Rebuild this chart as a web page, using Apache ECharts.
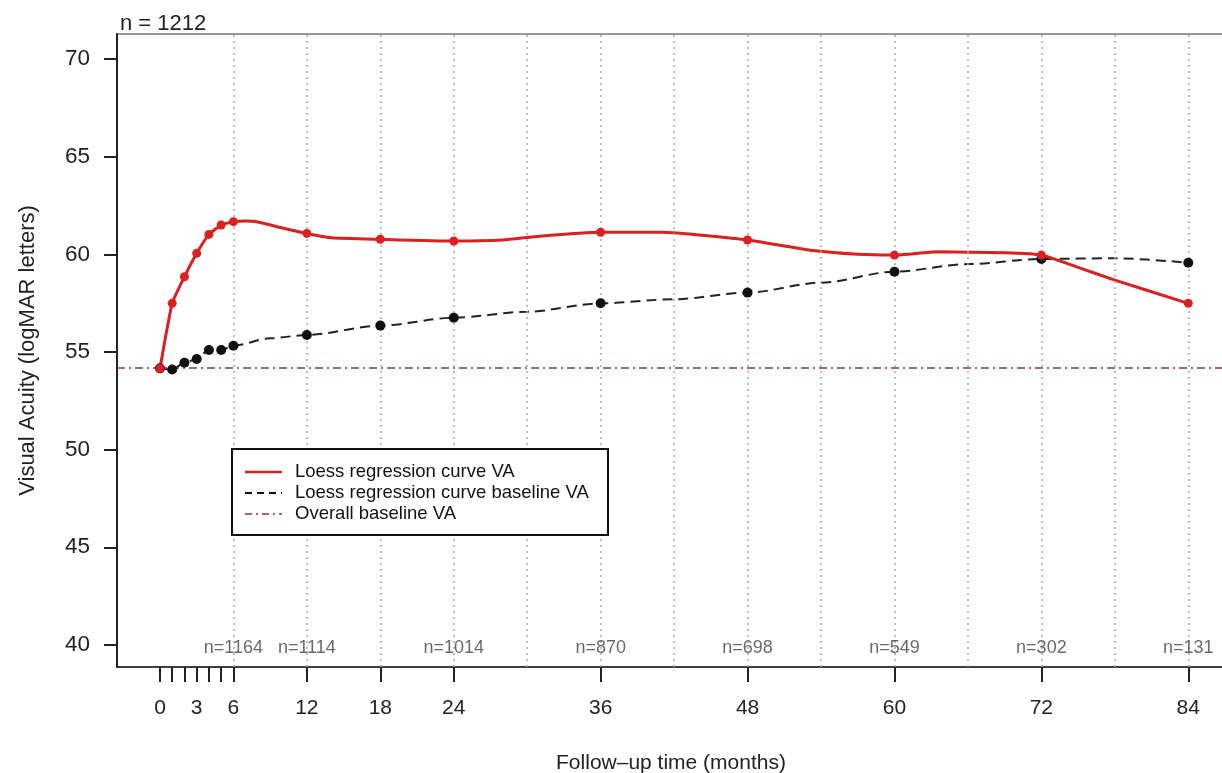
<!DOCTYPE html>
<html>
<head>
<meta charset="utf-8">
<title>Visual acuity follow-up</title>
<script src="https://cdn.jsdelivr.net/npm/echarts@6.0.0/dist/echarts.min.js"></script>
<style>
    html, body { margin: 0; padding: 0; background: #fff; }
    #chart { width: 1222px; height: 773px; }
</style>
</head>
<body>
<div id="chart"></div>
<script>
// measured visits (months) and mean values at each visit
const visitMonths = [0, 1, 2, 3, 4, 5, 6, 12, 18, 24, 36, 48, 60, 72, 84];
const vaPoints = [54.16, 57.49, 58.85, 60.05, 61.02, 61.5, 61.67, 61.07, 60.77, 60.68, 61.13, 60.73, 59.96, 59.96, 57.49];
const baselinePoints = [54.16, 54.1, 54.45, 54.64, 55.1, 55.1, 55.32, 55.87, 56.35, 56.75, 57.49, 58.04, 59.11, 59.76, 59.57];

// loess curves
const vaCurveMonths = [0, 1, 2, 3, 4, 5, 6, 7, 8, 10, 12, 14, 18, 24, 28, 31, 36, 41, 48, 53, 57, 60, 63.5, 69, 72, 75, 78, 84];
const vaCurve = [54.16, 57.49, 58.85, 60.05, 61.02, 61.5, 61.67, 61.7, 61.65, 61.35, 61.07, 60.85, 60.77, 60.68, 60.73, 60.93, 61.13, 61.13, 60.73, 60.22, 60.0, 59.96, 60.13, 60.08, 59.96, 59.33, 58.68, 57.49];
const baseCurveMonths = [0, 1, 2, 3, 4, 5, 6, 9, 12, 18, 24, 30, 36, 42, 48, 54, 60, 66, 72, 78, 84];
const baseCurve = [54.16, 54.1, 54.45, 54.64, 55.1, 55.1, 55.32, 55.7, 55.87, 56.35, 56.75, 57.06, 57.49, 57.7, 58.04, 58.55, 59.11, 59.5, 59.76, 59.8, 59.57];

const overallBaseline = 54.2;

// patients remaining at each follow-up
const nMonths = [6, 12, 24, 36, 48, 60, 72, 84];
const nCounts = [1164, 1114, 1014, 870, 698, 549, 302, 131];
const nTotal = 1212;

const gridMonths = [6, 12, 18, 24, 30, 36, 42, 48, 54, 60, 66, 72, 78, 84];
const xTickValues = [0, 1, 2, 3, 4, 5, 6, 12, 18, 24, 36, 48, 60, 72, 84];
const xLabelValues = [0, 3, 6, 12, 18, 24, 36, 48, 60, 72, 84];
const yTickValues = [40, 45, 50, 55, 60, 65, 70];

const labels = {
    va: "Loess regression curve VA",
    base: "Loess regression curve baseline VA",
    overall: "Overall baseline VA"
};

const RED = "#dc1f1f";
const BLACK = "#111";
const BASE_RED = "#8e3349";
const FONT = "'Liberation Sans', Arial, sans-serif";

function zip(xs, ys) {
    return xs.map((x, i) => [x, ys[i]]);
}

const chart = echarts.init(document.getElementById("chart"), null, { renderer: "canvas" });

// legend box drawn by hand to mimic the R legend
function legendGraphic() {
    const x0 = 232, y0 = 449;
    const rows = [
        { text: labels.va, color: RED, dash: null, width: 2.5 },
        { text: labels.base, color: BLACK, dash: [7, 5], width: 1.8 },
        { text: labels.overall, color: BASE_RED, dash: [7, 4, 2, 4], width: 1.5 }
    ];
    const items = [{
        type: "rect",
        shape: { x: x0, y: y0, width: 376, height: 86 },
        style: { fill: "#fff", stroke: "#111", lineWidth: 2 },
        z: 100
    }];
    rows.forEach((r, i) => {
        const y = y0 + 23 + i * 21;
        items.push({
            type: "line",
            shape: { x1: 245, y1: y, x2: 282, y2: y },
            style: { stroke: r.color, lineWidth: r.width, lineDash: r.dash },
            z: 101
        });
        items.push({
            type: "text",
            x: 295, y: y,
            style: { text: r.text, fill: "#111", font: "18.5px " + FONT, verticalAlign: "middle" },
            z: 101
        });
    });
    return items;
}

const option = {
    animation: false,
    backgroundColor: "#fff",
    title: {
        text: "n = " + nTotal,
        left: 115,
        top: 8,
        textStyle: { fontFamily: FONT, fontSize: 22, fontWeight: "normal", color: "#222" }
    },
    grid: {
        left: 117,
        top: 34,
        right: -3,
        bottom: 106,
        outerBoundsMode: "none",
        containLabel: false,
        show: true,
        borderColor: "#777",
        borderWidth: 1.5
    },
    xAxis: {
        type: "value",
        min: -3.51,
        max: 87.0,
        name: "Follow\u2013up time (months)",
        nameLocation: "middle",
        nameGap: 86,
        nameTextStyle: { fontFamily: FONT, fontSize: 21, color: "#222" },
        axisLine: { show: true, onZero: false, lineStyle: { color: "#222", width: 1.5 } },
        axisTick: {
            show: true, length: 15, customValues: xTickValues,
            lineStyle: { color: "#222", width: 2 }
        },
        axisLabel: {
            customValues: xLabelValues, margin: 31,
            fontFamily: FONT, fontSize: 21, color: "#222"
        },
        splitLine: { show: false }
    },
    yAxis: {
        type: "value",
        min: 38.87,
        max: 71.28,
        name: "Visual Acuity (logMAR letters)",
        nameLocation: "middle",
        nameGap: 78,
        nameTextStyle: { fontFamily: FONT, fontSize: 22, color: "#222" },
        axisLine: { show: true, onZero: false, lineStyle: { color: "#222", width: 2 } },
        axisTick: {
            show: true, length: 13, customValues: yTickValues,
            lineStyle: { color: "#222", width: 2 }
        },
        axisLabel: {
            customValues: yTickValues, margin: 27,
            fontFamily: FONT, fontSize: 22.5, color: "#222"
        },
        splitLine: { show: false }
    },
    series: [
        {
            // dotted vertical guides and the overall baseline
            type: "line",
            data: [],
            silent: true,
            markLine: {
                symbol: "none",
                silent: true,
                label: { show: false },
                data: gridMonths.map((m) => ({
                    xAxis: m,
                    lineStyle: { color: "#a8a8a8", width: 1.5, type: [2, 4] }
                })).concat([{
                    yAxis: overallBaseline,
                    lineStyle: { color: BASE_RED, width: 1.6, type: [8, 4, 2, 4] }
                }])
            },
            z: 1
        },
        {
            name: labels.base,
            type: "line",
            data: zip(baseCurveMonths, baseCurve),
            showSymbol: false,
            smooth: 0.3,
            smoothMonotone: "x",
            lineStyle: { color: "#222", width: 2, type: [10, 6] },
            z: 3
        },
        {
            name: labels.va,
            type: "line",
            data: zip(vaCurveMonths, vaCurve),
            showSymbol: false,
            smooth: 0.15,
            lineStyle: { color: RED, width: 3 },
            z: 4
        },
        {
            type: "scatter",
            data: zip(visitMonths, baselinePoints),
            symbolSize: 10,
            itemStyle: { color: BLACK, opacity: 1 },
            z: 5
        },
        {
            type: "scatter",
            data: zip(visitMonths, vaPoints),
            symbolSize: 9,
            itemStyle: { color: RED, opacity: 1 },
            z: 6
        },
        {
            // n at risk labels
            type: "scatter",
            data: nMonths.map((m, i) => [m, 39.85, nCounts[i]]),
            symbolSize: 0,
            silent: true,
            label: {
                show: true,
                position: "inside",
                formatter: (p) => "n=" + p.value[2],
                fontFamily: FONT,
                fontSize: 18,
                color: "#444"
            },
            z: 7
        }
    ],
    graphic: legendGraphic()
};

chart.setOption(option);
</script>
</body>
</html>
